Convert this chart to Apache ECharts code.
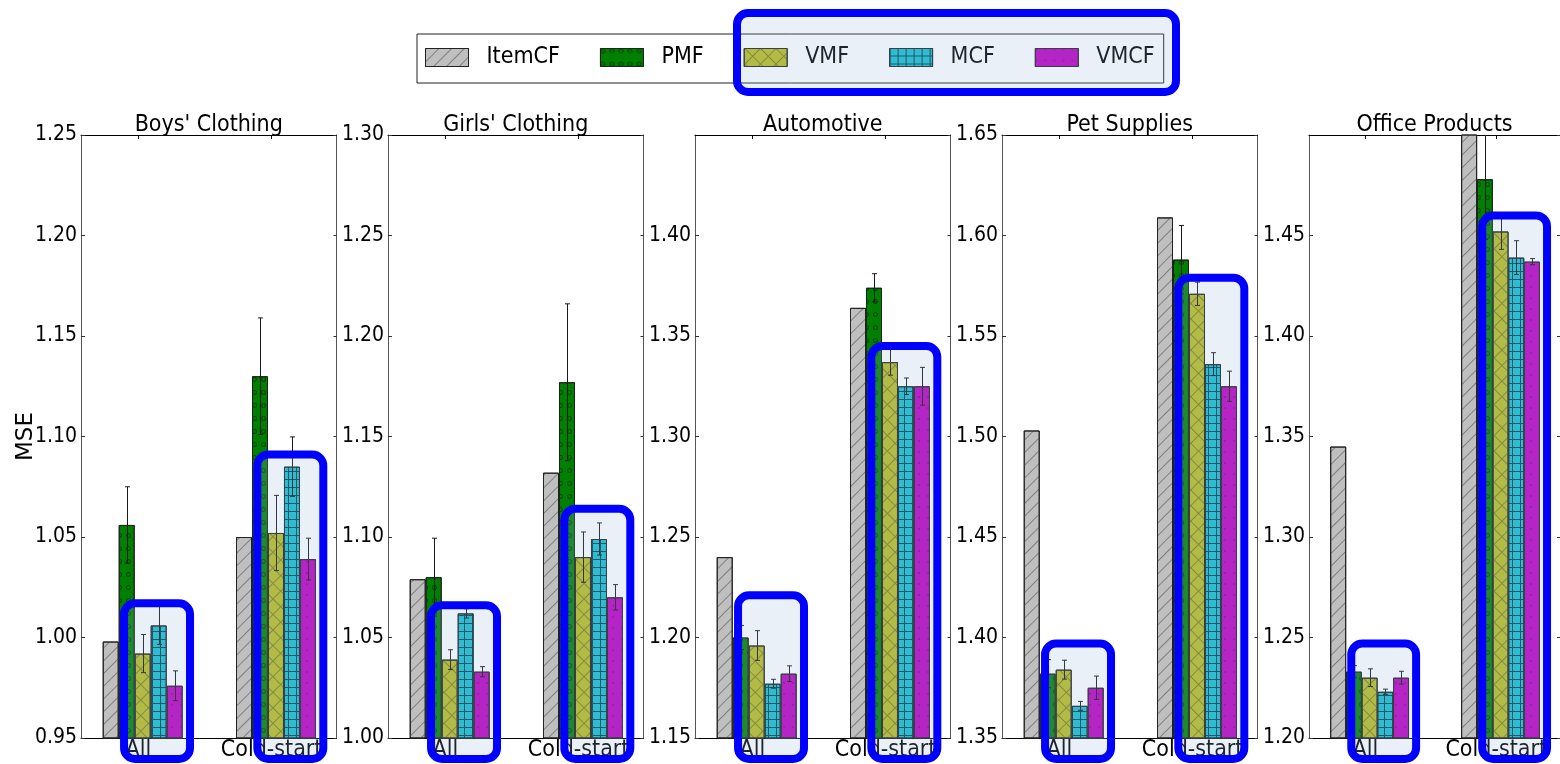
<!DOCTYPE html>
<html>
<head>
<meta charset="utf-8">
<script src="https://cdn.jsdelivr.net/npm/echarts@6/dist/echarts.min.js"></script>
<style>
html,body{margin:0;padding:0;background:#fff;}
#container{width:1560px;height:764px;}
</style>
</head>
<body>
<div id="container"></div>
<script>
var panelNames = ["Boys' Clothing", "Girls' Clothing", "Automotive", "Pet Supplies", "Office Products"];
var groupNames = ['All', 'Cold-start'];
var methods = ['ItemCF', 'PMF', 'VMF', 'MCF', 'VMCF'];
var yMin = [0.95, 1.00, 1.15, 1.35, 1.20];
var yMax = [1.25, 1.30, 1.45, 1.65, 1.50];
var showTopLabel = [true, true, false, true, false];

// MSE per method, order: ItemCF, PMF, VMF, MCF, VMCF
var boysAll = [0.998, 1.056, 0.992, 1.006, 0.976];
var boysAllErr = [0, 0.019, 0.0095, 0.0095, 0.0074];
var boysCold = [1.050, 1.130, 1.052, 1.085, 1.039];
var boysColdErr = [0, 0.029, 0.0187, 0.0148, 0.0104];

var girlsAll = [1.079, 1.080, 1.039, 1.062, 1.033];
var girlsAllErr = [0, 0.0194, 0.0049, 0.0023, 0.0025];
var girlsCold = [1.132, 1.177, 1.090, 1.099, 1.070];
var girlsColdErr = [0, 0.039, 0.0125, 0.008, 0.0063];

var autoAll = [1.240, 1.200, 1.196, 1.177, 1.182];
var autoAllErr = [0, 0.006, 0.0074, 0.0022, 0.0039];
var autoCold = [1.364, 1.374, 1.337, 1.325, 1.325];
var autoColdErr = [0, 0.007, 0.0065, 0.0041, 0.0094];

var petAll = [1.503, 1.382, 1.384, 1.366, 1.375];
var petAllErr = [0, 0.007, 0.0047, 0.0022, 0.0058];
var petCold = [1.609, 1.588, 1.571, 1.536, 1.525];
var petColdErr = [0, 0.017, 0.0058, 0.0057, 0.0075];

var officeAll = [1.345, 1.233, 1.230, 1.223, 1.230];
var officeAllErr = [0, 0.003, 0.0044, 0.0013, 0.0032];
var officeCold = [1.52, 1.478, 1.452, 1.439, 1.437];
var officeColdErr = [0, 0.03, 0.0089, 0.0084, 0.0015];

// top edge of the blue highlight boxes (All, Cold-start), in MSE units
var boxTop = [[1.019, 1.093], [1.068, 1.116], [1.223, 1.347], [1.399, 1.581], [1.249, 1.462]];

var panelMeans = [[boysAll, boysCold], [girlsAll, girlsCold], [autoAll, autoCold], [petAll, petCold], [officeAll, officeCold]];
var panelErrs = [[boysAllErr, boysColdErr], [girlsAllErr, girlsColdErr], [autoAllErr, autoColdErr], [petAllErr, petColdErr], [officeAllErr, officeColdErr]];

var colors = ['#bfbfbf', '#008000', '#bcbd22', '#17becf', '#bf00bf'];

function gridDecal(period, color, rot) {
  var rows = [[1, 0]];
  for (var i = 1; i < period; i++) rows.push([1, period - 1]);
  return {symbol: 'rect', symbolSize: 1, color: color, dashArrayX: rows, dashArrayY: [1, 0], rotation: rot};
}
var decals = [
  {symbol: 'rect', symbolSize: 1, color: 'rgba(100,100,100,0.7)', dashArrayX: [1, 0], dashArrayY: [1, 8], rotation: -Math.PI / 4},
  {symbol: 'path://M5,0A5,5 0 1,1 5,10A5,5 0 1,1 5,0ZM5,2.2A2.8,2.8 0 1,0 5,7.8A2.8,2.8 0 1,0 5,2.2Z', symbolSize: 1, color: 'rgba(0,60,0,0.8)', dashArrayX: [4.5, 3.5], dashArrayY: [4.5, 7.5]},
  gridDecal(11, 'rgba(110,110,20,0.75)', Math.PI / 4),
  gridDecal(8, 'rgba(0,45,55,0.85)', 0),
  {symbol: 'circle', symbolSize: 1, color: 'rgba(110,0,110,0.55)', dashArrayX: [2, 7], dashArrayY: [2, 9]}
];

var barW = 0.12;        // bar width in x units
var tickOff = 0.267;    // category tick offset from group start
var condensed = 'DejaVu Sans Condensed';
var overlayFill = 'rgba(145,180,220,0.2)';

var grids = [], xAxes = [], yAxes = [], series = [];
var groupTicks = groupNames.map(function (n, g) { return g + tickOff; });

panelNames.forEach(function (name, p) {
  var left = 81 + p * 307;
  grids.push({left: left, top: 135, width: 255.5, height: 603});
  xAxes.push({
    gridIndex: p, type: 'value', min: -0.163, max: 1.754, position: 'bottom',
    splitLine: {show: false},
    axisLine: {onZero: false, lineStyle: {color: '#000', width: 1}},
    axisTick: {inside: true, length: 4, customValues: groupTicks, lineStyle: {color: '#000'}},
    axisLabel: {customValues: groupTicks, margin: 1, fontSize: 23, fontFamily: condensed, color: '#000',
      formatter: function (v) { return groupNames[Math.round(v - tickOff)]; }}
  });
  xAxes.push({
    gridIndex: p, type: 'value', min: -0.163, max: 1.754, position: 'top',
    name: name, nameLocation: 'middle', nameGap: -2,
    nameTextStyle: {fontSize: 23, fontFamily: condensed, color: '#000', verticalAlign: 'bottom'},
    splitLine: {show: false},
    axisLine: {onZero: false, lineStyle: {color: '#000', width: 1}},
    axisTick: {inside: true, length: 4, customValues: groupTicks, lineStyle: {color: '#000'}},
    axisLabel: {show: false}
  });
  yAxes.push({
    gridIndex: p, type: 'value', min: yMin[p], max: yMax[p], interval: 0.05, position: 'left',
    name: p === 0 ? 'MSE' : '', nameLocation: 'middle', nameGap: 43, nameMoveOverlap: false,
    nameTextStyle: {fontSize: 23, fontFamily: 'DejaVu Sans', color: '#000'},
    splitLine: {show: false},
    axisLine: {show: true, onZero: false, lineStyle: {color: '#555', width: 1}},
    axisTick: {inside: true, length: 4, lineStyle: {color: '#333'}},
    axisLabel: {margin: 4, fontSize: 21, fontFamily: condensed, color: '#000', showMaxLabel: showTopLabel[p],
      formatter: function (v) { return v.toFixed(2); }}
  });
  yAxes.push({
    gridIndex: p, type: 'value', min: yMin[p], max: yMax[p], interval: 0.05, position: 'right',
    splitLine: {show: false},
    axisLine: {show: true, onZero: false, lineStyle: {color: '#555', width: 1}},
    axisTick: {inside: true, length: 3, lineStyle: {color: '#333'}},
    axisLabel: {show: false}
  });

  var errData = [];
  methods.forEach(function (m, i) {
    var data = [];
    groupNames.forEach(function (gName, g) {
      var x = g + (i + 0.5) * barW;
      var v = panelMeans[p][g][i];
      data.push([x, v]);
      if (panelErrs[p][g][i] > 0) errData.push([x, v, panelErrs[p][g][i]]);
    });
    series.push({
      name: m, type: 'bar', xAxisIndex: p * 2, yAxisIndex: p * 2,
      barWidth: 16, barGap: '-100%', silent: true, clip: true,
      itemStyle: {color: colors[i], borderColor: '#222', borderWidth: 1, decal: decals[i]},
      data: data
    });
  });

  series.push({
    type: 'custom', xAxisIndex: p * 2, yAxisIndex: p * 2, clip: true, silent: true, z: 5,
    data: errData,
    renderItem: function (params, api) {
      var x = api.value(0), v = api.value(1), e = api.value(2);
      var hi = api.coord([x, v + e]), lo = api.coord([x, v - e]);
      var cx = Math.round(hi[0]) + 0.5;
      var st = {stroke: '#1a1a1a', lineWidth: 1};
      return {type: 'group', children: [
        {type: 'line', shape: {x1: cx, y1: hi[1], x2: cx, y2: lo[1]}, style: st},
        {type: 'line', shape: {x1: cx - 2.5, y1: hi[1], x2: cx + 2.5, y2: hi[1]}, style: st},
        {type: 'line', shape: {x1: cx - 2.5, y1: lo[1], x2: cx + 2.5, y2: lo[1]}, style: st}
      ]};
    }
  });

  var base = yMin[p];
  series.push({
    type: 'custom', xAxisIndex: p * 2, yAxisIndex: p * 2, clip: false, silent: true, z: 10,
    data: groupNames.map(function (gName, g) { return [g, boxTop[p][g]]; }),
    renderItem: function (params, api) {
      var g = api.value(0), t = api.value(1);
      var a = api.coord([g + 0.16, t]);
      var b = api.coord([g + 0.655, base]);
      var y0 = a[1] + 4, y1 = b[1] + 21;
      return {type: 'rect', shape: {x: a[0], y: y0, width: b[0] - a[0], height: y1 - y0, r: 11},
        style: {fill: overlayFill, stroke: '#0000ff', lineWidth: 8}};
    }
  });
});

var chart = echarts.init(document.getElementById('container'), null, {renderer: 'canvas'});
chart.setOption({
  animation: false,
  backgroundColor: '#fff',
  legend: {
    data: methods, left: 417, top: 34, padding: [12, 9, 14, 8], itemGap: 40,
    itemWidth: 43, itemHeight: 18, icon: 'rect', selectedMode: false,
    borderColor: '#222', borderWidth: 1,
    itemStyle: {borderWidth: 1},
    textStyle: {fontFamily: condensed, fontSize: 23, color: '#000', padding: [0, 0, 0, 13], lineHeight: 18}
  },
  graphic: [{
    type: 'rect', z: 100, silent: true,
    shape: {x: 737, y: 13, width: 439, height: 79, r: 11},
    style: {fill: overlayFill, stroke: '#0000ff', lineWidth: 8}
  }],
  grid: grids,
  xAxis: xAxes,
  yAxis: yAxes,
  series: series
});
</script>
</body>
</html>
